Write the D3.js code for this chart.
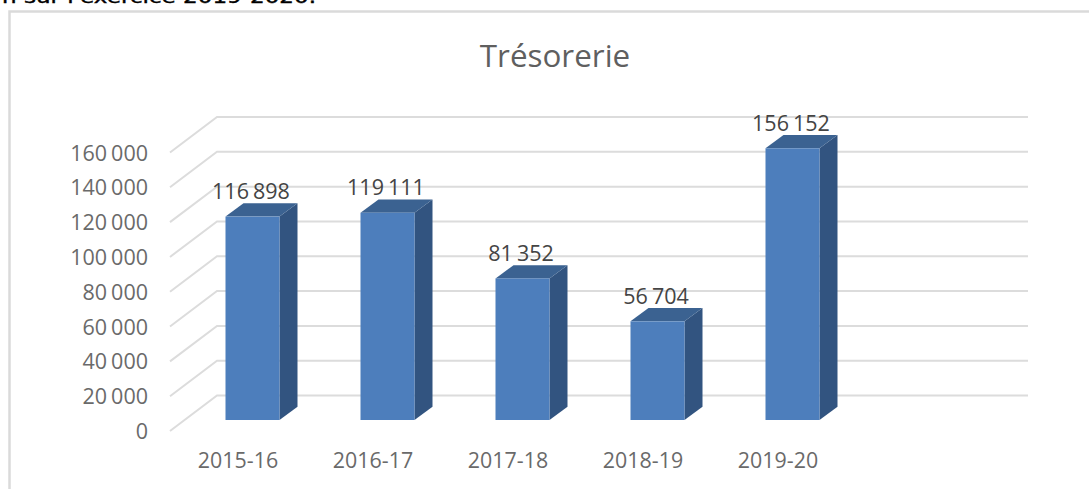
<!DOCTYPE html>
<html><head><meta charset="utf-8">
<script src="https://cdn.jsdelivr.net/npm/d3@7/dist/d3.min.js"></script>
<style>html,body{margin:0;padding:0;background:#fff;overflow:hidden}svg{display:block}text{font-family:"Open Sans",Lato,sans-serif}</style>
</head><body><svg id="c" width="1089" height="489"></svg>
<script>
const categories = ["2015-16","2016-17","2017-18","2018-19","2019-20"];
const values = [116898,119111,81352,56704,156152];
const tickValues = [0,20000,40000,60000,80000,100000,120000,140000,160000];
const title = "Trésorerie";
const headerText = "n sur l'exercice 2019-2020.";

const W=1089,H=489;
const svg=d3.select("#c");
const fmt=v=>d3.format(",")(v).replace(/,/g,"\u00a0");
const yMax=160000;
const x=d3.scaleBand().domain(categories).range([185,860]).paddingInner(0).paddingOuter(0);
const yFront=d3.scaleLinear().domain([0,yMax]).range([431,152.5]);
const yBar=d3.scaleLinear().domain([0,yMax]).range([420,141.6]);
const barW=54,dx=18,dy=13.3,backX=47,backY=35.5,gridEnd=1028;

svg.append("text").attr("x",2).attr("y",3).attr("font-size",17).attr("fill","#000")
  .attr("stroke","#000").attr("stroke-width",0.4)
  .style("font-family","'DejaVu Sans'").attr("textLength",314).attr("lengthAdjust","spacingAndGlyphs").text(headerText);
svg.append("path").attr("d",`M9.5,${H}V11.5H${W}`).attr("fill","none").attr("stroke","#dadada").attr("stroke-width",2.5);

svg.append("text").attr("x",555).attr("y",67).attr("text-anchor","middle").attr("font-size",31.4)
  .attr("fill","#5f5f5f").text(title);

const grid=svg.append("g").attr("fill","none").attr("stroke","#dcdcdc").attr("stroke-width",2);
grid.selectAll("path").data(tickValues).join("path")
  .attr("d",t=>`M170,${yFront(t)}L${170+backX},${yFront(t)-backY}H${gridEnd}`);

svg.append("g").selectAll("text").data(tickValues).join("text")
  .attr("x",148).attr("y",t=>yFront(t)+8).attr("text-anchor","end")
  .attr("font-size",21.5).attr("word-spacing",-1.5).attr("fill","#6a6a6a").text(fmt);

const bars=svg.append("g").selectAll("g").data(categories.map((c,i)=>({c,v:values[i]}))).join("g");
const cx=d=>x(d.c)+x.bandwidth()/2;
bars.append("path").attr("fill","#325480").attr("d",d=>{
  const r=cx(d)+barW/2,t=yBar(d.v),b=yBar(0);
  return `M${r},${t}L${r+dx},${t-dy}V${b-dy}L${r},${b}Z`;});
bars.append("path").attr("fill","#3b6291").attr("d",d=>{
  const l=cx(d)-barW/2,r=cx(d)+barW/2,t=yBar(d.v);
  return `M${l},${t}L${l+dx},${t-dy}H${r+dx}L${r},${t}Z`;});
bars.append("rect").attr("x",d=>cx(d)-barW/2).attr("y",d=>yBar(d.v)).attr("width",barW)
  .attr("height",d=>yBar(0)-yBar(d.v)).attr("fill","#4d7ebc");
bars.append("text").attr("x",d=>cx(d)-1.5).attr("y",d=>yBar(d.v)-dy-4).attr("text-anchor","middle")
  .attr("font-size",21.5).attr("word-spacing",-1.5).attr("fill","#444").text(d=>fmt(d.v));

svg.append("g").selectAll("text").data(categories).join("text")
  .attr("x",c=>x(c)+x.bandwidth()/2-14.5).attr("y",468).attr("text-anchor","middle")
  .attr("font-size",21.4).attr("fill","#6a6a6a").text(c=>c);
</script></body></html>
